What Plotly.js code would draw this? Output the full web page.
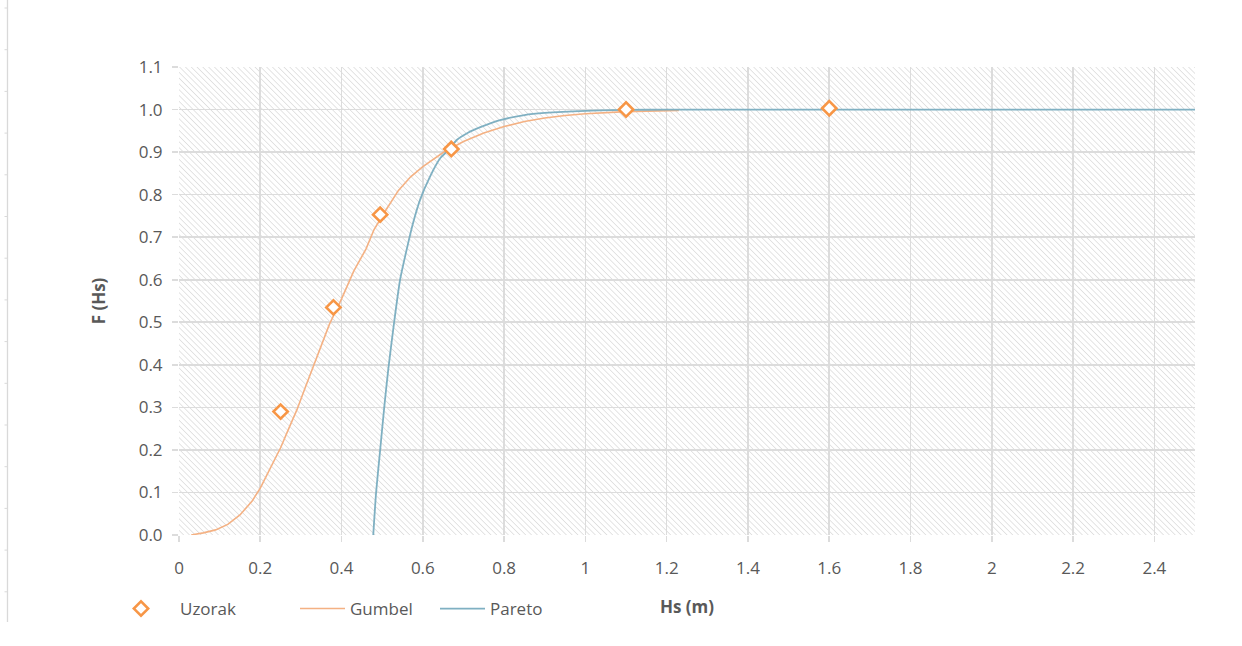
<!DOCTYPE html>
<html>
<head>
<meta charset="utf-8">
<script src="https://cdn.plot.ly/plotly-3.0.1.min.js"></script>
<style>
html,body{margin:0;padding:0;background:#fff;}
#chart{width:1242px;height:646px;}
</style>
</head>
<body>
<div id="chart"></div>
<script>
// ---- data ----
var uzorakX = [0.25, 0.38, 0.495, 0.67, 1.1, 1.6];
var uzorakY = [0.29, 0.535, 0.753, 0.907, 1.0, 1.003];

var gumbelX = [0.03,0.06,0.09,0.12,0.15,0.18,0.20,0.23,0.25,0.27,0.29,0.31,0.34,0.37,0.40,0.43,0.46,0.48,0.51,0.54,0.57,0.60,0.65,0.70,0.75,0.80,0.85,0.90,0.95,1.00,1.10,1.23];
var gumbelY = [0.000,0.005,0.012,0.025,0.047,0.080,0.110,0.165,0.205,0.250,0.294,0.345,0.422,0.495,0.555,0.620,0.672,0.718,0.765,0.810,0.842,0.866,0.899,0.925,0.945,0.960,0.972,0.980,0.986,0.990,0.995,0.998];

var paretoX = [0.478,0.485,0.495,0.505,0.515,0.528,0.544,0.56,0.575,0.594,0.618,0.643,0.66,0.684,0.71,0.74,0.79,0.85,0.9,1.0,1.1,1.2,1.3,1.5,2.0,2.5];
var paretoY = [0.0,0.10,0.20,0.30,0.39,0.49,0.60,0.67,0.73,0.79,0.843,0.886,0.902,0.929,0.945,0.958,0.975,0.987,0.992,0.997,0.999,1.0,1.0,1.0,1.0,1.0];

var xTitle = "Hs (m)";
var yTitle = "F (Hs)";

// ---- layout geometry ----
var W = 1242, H = 646;
var mL = 179, mR = 47, mT = 67, mB = 111;
var plotW = W - mL - mR, plotH = H - mT - mB;

// hatch background pattern (decoration)
var svg = '<svg xmlns="http://www.w3.org/2000/svg" width="' + plotW + '" height="' + plotH + '" viewBox="0 0 ' + plotW + ' ' + plotH + '">' +
  '<defs><pattern id="h" patternUnits="userSpaceOnUse" width="4.1" height="4.1" patternTransform="rotate(-45)">' +
  '<line x1="0" y1="0" x2="0" y2="10" stroke="#d3d3d3" stroke-width="1.2"/></pattern></defs>' +
  '<rect width="100%" height="100%" fill="url(#h)"/></svg>';
var svgURI = 'data:image/svg+xml;charset=utf-8,' + encodeURIComponent(svg);

var font = "'Open Sans', 'Noto Sans', sans-serif";
var tickCol = '#595959';
var fs = 17;

var traces = [
  {
    type: 'scatter', mode: 'lines', name: 'Gumbel',
    x: gumbelX, y: gumbelY,
    line: {color: '#F4B183', width: 1.6},
    legend: 'legend2'
  },
  {
    type: 'scatter', mode: 'lines', name: 'Pareto',
    x: paretoX, y: paretoY,
    line: {color: '#7FB0C2', width: 1.8, shape: 'spline', smoothing: 0.6},
    legend: 'legend3'
  },
  {
    type: 'scatter', mode: 'markers', name: 'Uzorak',
    x: uzorakX, y: uzorakY,
    marker: {symbol: 'diamond', size: 11, color: '#ffffff', line: {color: '#F79646', width: 2.6}},
    legend: 'legend'
  }
];

// left decorative border with ticks
var shapes = [];
function px2paperX(p){ return (p - mL) / plotW; }
function py2paperY(p){ return (H - mB - p) / plotH; }
shapes.push({type:'line', xref:'paper', yref:'paper', x0:px2paperX(7.5), x1:px2paperX(7.5), y0:py2paperY(0), y1:py2paperY(622), line:{color:'#d9d9d9', width:1.3}});
for (var ty = 8; ty <= 622; ty += 41.7) {
  shapes.push({type:'line', xref:'paper', yref:'paper', x0:px2paperX(4.5), x1:px2paperX(7.5), y0:py2paperY(ty), y1:py2paperY(ty), line:{color:'#d9d9d9', width:1}});
}

var legendBase = {
  orientation: 'h', yanchor: 'middle', y: py2paperY(609),
  font: {family: font, size: fs, color: tickCol},
  bgcolor: 'rgba(0,0,0,0)', borderwidth: 0, xanchor: 'left'
};

var layout = {
  width: W, height: H,
  margin: {l: mL, r: mR, t: mT, b: mB, pad: 0},
  paper_bgcolor: '#ffffff',
  plot_bgcolor: 'rgba(0,0,0,0)',
  font: {family: font, size: fs, color: tickCol},
  xaxis: {
    range: [0, 2.5], dtick: 0.2, tick0: 0,
    showgrid: true, gridcolor: '#dcdcdc', gridwidth: 1.6,
    zeroline: false, showline: false,
    ticks: 'outside', ticklen: 6, tickcolor: '#dcdcdc', tickwidth: 1.6,
    ticklabelstandoff: 12,
    tickfont: {family: font, size: fs, color: tickCol},
    title: {text: xTitle, font: {family: font, size: fs, color: tickCol, weight: 'bold'}, standoff: 22},
    fixedrange: true
  },
  yaxis: {
    range: [0, 1.1], dtick: 0.1, tick0: 0, tickformat: '.1f',
    showgrid: true, gridcolor: '#dcdcdc', gridwidth: 1.6,
    zeroline: false, showline: false,
    ticks: 'outside', ticklen: 6, tickcolor: '#dcdcdc', tickwidth: 1.6,
    ticklabelstandoff: 6,
    tickfont: {family: font, size: fs, color: tickCol},
    title: {text: yTitle, font: {family: font, size: fs, color: tickCol, weight: 'bold'}, standoff: 28},
    fixedrange: true
  },
  showlegend: true,
  legend: Object.assign({}, legendBase, {x: px2paperX(102), itemwidth: 68}),
  legend2: Object.assign({}, legendBase, {x: px2paperX(295), itemwidth: 45}),
  legend3: Object.assign({}, legendBase, {x: px2paperX(435), itemwidth: 45}),
  images: [{
    source: svgURI, xref: 'paper', yref: 'paper',
    x: 0, y: 1, sizex: 1, sizey: 1, xanchor: 'left', yanchor: 'top',
    sizing: 'stretch', layer: 'below'
  }],
  shapes: shapes
};

Plotly.newPlot('chart', traces, layout, {displayModeBar: false, staticPlot: true});
</script>
</body>
</html>
